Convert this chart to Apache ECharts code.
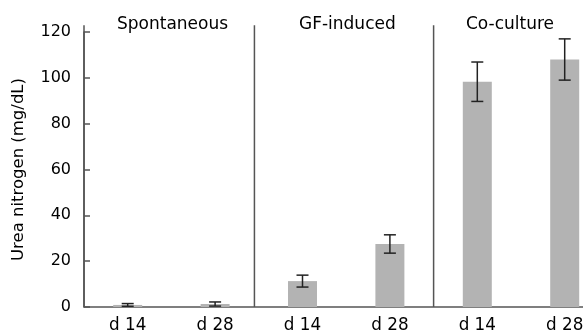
<!DOCTYPE html>
<html><head><meta charset="utf-8">
<script src="https://cdn.jsdelivr.net/npm/echarts@6/dist/echarts.min.js"></script>
<style>html,body{margin:0;padding:0;background:#fff}#c{width:583px;height:334px}</style>
</head><body><div id="c"></div>
<script>
var categories = ['d 14', 'd 28', 'd 14', 'd 28', 'd 14', 'd 28'];
var values = [0.9, 1.3, 11.3, 27.5, 98.3, 108.0];
var errors = [0.6, 0.9, 2.6, 4.0, 8.6, 9.0];
var groups = ['Spontaneous', 'GF-induced', 'Co-culture'];
var dividers = [0, 1.95, 4.0];
var yTicks = [0, 20, 40, 60, 80, 100, 120];

var FONT = 'DejaVu Sans';
var chart = echarts.init(document.getElementById('c'), null, {renderer: 'canvas'});
var errData = values.map(function (v, i) { return [i, v - errors[i], v + errors[i]]; });
var grp = [
  {text: groups[0], left: 117, top: 16},
  {text: groups[1], left: 299, top: 16},
  {text: groups[2], left: 466, top: 16}
];
chart.setOption({
  animation: false,
  title: grp.map(function (g) {
    return {text: g.text, left: g.left, top: g.top, padding: 0,
      textStyle: {fontFamily: FONT, fontSize: 17, fontWeight: 'normal', color: '#000'}};
  }),
  grid: {left: 84, top: 32, bottom: 27, width: 524.4, outerBoundsMode: 'none', containLabel: false},
  xAxis: [{
    type: 'category', data: categories,
    axisTick: {show: false},
    axisLine: {lineStyle: {color: '#555', width: 1.5}},
    axisLabel: {fontFamily: FONT, fontSize: 16.8, color: '#000', margin: 10}
  }, {
    type: 'value', min: 0, max: 6, show: false
  }],
  yAxis: {
    type: 'value', min: yTicks[0], max: yTicks[yTicks.length - 1], interval: 20,
    name: 'Urea nitrogen (mg/dL)', nameLocation: 'middle', nameGap: 57,
    nameTextStyle: {fontFamily: FONT, fontSize: 16.5, color: '#000'},
    axisLine: {show: true, lineStyle: {color: '#555', width: 1.5}},
    axisTick: {show: true, inside: true, length: 6, lineStyle: {color: '#555', width: 1.5}},
    splitLine: {show: false},
    axisLabel: {fontFamily: FONT, fontSize: 16, color: '#000', margin: 13}
  },
  series: [{
    type: 'bar', data: values, barWidth: 29,
    itemStyle: {color: '#b3b3b3'}
  }, {
    type: 'custom', data: errData,
    renderItem: function (params, api) {
      var x = api.value(0);
      var lo = api.coord([x, api.value(1)]);
      var hi = api.coord([x, api.value(2)]);
      var hw = 6;
      var st = {stroke: '#222', lineWidth: 1.5};
      return {type: 'group', children: [
        {type: 'line', shape: {x1: lo[0], y1: lo[1], x2: hi[0], y2: hi[1]}, style: st},
        {type: 'line', shape: {x1: lo[0] - hw, y1: lo[1], x2: lo[0] + hw, y2: lo[1]}, style: st},
        {type: 'line', shape: {x1: hi[0] - hw, y1: hi[1], x2: hi[0] + hw, y2: hi[1]}, style: st}
      ]};
    },
    z: 5
  }, {
    type: 'custom', xAxisIndex: 1, data: dividers.map(function (d) { return [d]; }),
    clip: false, silent: true,
    renderItem: function (params, api) {
      var d = api.value(0);
      var a = api.coord([d, 0]);
      var b = api.coord([d, 123]);
      return {type: 'line', shape: {x1: a[0], y1: a[1], x2: b[0], y2: b[1]},
        style: {stroke: '#555', lineWidth: 1.5}};
    }
  }]
});
</script></body></html>
